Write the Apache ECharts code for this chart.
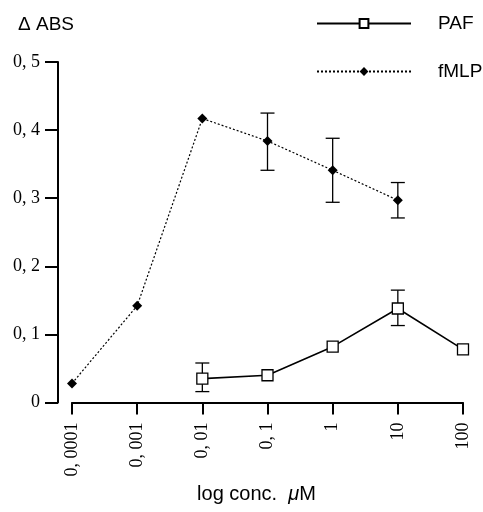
<!DOCTYPE html>
<html>
<head>
<meta charset="utf-8">
<script src="https://cdn.jsdelivr.net/npm/echarts@6/dist/echarts.min.js"></script>
<style>
  html, body { margin: 0; padding: 0; background: #fff; }
  #chart { width: 483px; height: 512px; }
</style>
</head>
<body>
<div id="chart"></div>
<script>
// Concentrations (µM), one category per decade
const concentrations = ['0,0001', '0,001', '0,01', '0,1', '1', '10', '100'];

// ΔABS responses; null where a stimulus was not tested
const pafValues  = [null, null, 0.035, 0.040, 0.082, 0.138, 0.078];
const pafLow     = [null, null, 0.016, null, null, 0.113, null];
const pafHigh    = [null, null, 0.058, null, null, 0.165, null];

const fmlpValues = [0.028, 0.142, 0.417, 0.384, 0.341, 0.297, null];
const fmlpLow    = [null, null, null, 0.341, 0.294, 0.271, null];
const fmlpHigh   = [null, null, null, 0.425, 0.388, 0.323, null];

const yTicks = [0, 0.1, 0.2, 0.3, 0.4, 0.5];

function errorData(low, high) {
  const out = [];
  low.forEach((lo, i) => {
    if (lo != null && high[i] != null) out.push([i, lo, high[i]]);
  });
  return out;
}

function renderErrorBar(params, api) {
  const x = api.value(0);
  const lo = api.coord([x, api.value(1)]);
  const hi = api.coord([x, api.value(2)]);
  const half = 7;
  const style = { stroke: '#000', lineWidth: 1.3, fill: null };
  return {
    type: 'group',
    children: [
      { type: 'line', shape: { x1: lo[0], y1: lo[1], x2: hi[0], y2: hi[1] }, style },
      { type: 'line', shape: { x1: hi[0] - half, y1: hi[1], x2: hi[0] + half, y2: hi[1] }, style },
      { type: 'line', shape: { x1: lo[0] - half, y1: lo[1], x2: lo[0] + half, y2: lo[1] }, style }
    ]
  };
}

const chart = echarts.init(document.getElementById('chart'), null, { renderer: 'canvas' });

const serif = '"Liberation Serif", "DejaVu Serif", serif';
const sans = '"Liberation Sans", Arial, sans-serif';

chart.setOption({
  animation: false,
  backgroundColor: '#fff',
  grid: { left: 72, right: 20, top: 62, bottom: 109.5, containLabel: false },
  legend: {
    orient: 'vertical',
    left: 311,
    top: 9,
    itemWidth: 94,
    itemHeight: 11,
    itemGap: 29,
    textStyle: { fontFamily: sans, fontSize: 19, color: '#000', padding: [0, 0, 0, 22] },
    data: ['PAF', 'fMLP']
  },
  xAxis: {
    type: 'category',
    data: concentrations,
    boundaryGap: false,
    name: 'log conc.  {mu|μ}M',
    nameLocation: 'middle',
    nameGap: 82,
    nameTextStyle: {
      fontFamily: sans, fontSize: 20, color: '#000', padding: [0, 22, 0, 0],
      rich: { mu: { fontFamily: sans, fontSize: 20, fontStyle: 'italic', color: '#000' } }
    },
    axisLine: { onZero: false, lineStyle: { color: '#000', width: 2 } },
    axisTick: { length: 12, lineStyle: { color: '#000', width: 2 } },
    axisLabel: {
      rotate: 90,
      margin: 20,
      fontFamily: serif,
      fontSize: 18,
      color: '#000',
      formatter: v => v.replace(',', ', ')
    },
    splitLine: { show: false }
  },
  yAxis: {
    type: 'value',
    min: yTicks[0],
    max: yTicks[yTicks.length - 1],
    interval: 0.1,
    offset: 14,
    name: 'Δ ABS',
    nameLocation: 'end',
    nameGap: 28,
    nameTextStyle: { fontFamily: sans, fontSize: 19, color: '#000', align: 'center', padding: [0, 24, 0, 0] },
    axisLine: { show: true, lineStyle: { color: '#000', width: 2 } },
    axisTick: { show: true, length: 13, lineStyle: { color: '#000', width: 2 } },
    axisLabel: {
      margin: 18,
      fontFamily: serif,
      fontSize: 18,
      color: '#000',
      formatter: v => (v === 0 ? '0' : v.toFixed(1).replace('.', ', '))
    },
    splitLine: { show: false }
  },
  series: [
    {
      name: 'PAF',
      type: 'line',
      data: pafValues,
      connectNulls: false,
      symbol: 'rect',
      symbolSize: 11,
      showSymbol: true,
      lineStyle: { color: '#000', width: 1.6, type: 'solid' },
      itemStyle: { color: '#fff', borderColor: '#000', borderWidth: 1.3 },
      z: 3
    },
    {
      name: 'fMLP',
      type: 'line',
      data: fmlpValues,
      symbol: 'diamond',
      symbolSize: 10,
      lineStyle: { color: '#000', width: 1.2, type: [2, 2] },
      itemStyle: { color: '#000', borderColor: '#000', borderWidth: 0 },
      z: 3
    },
    {
      name: 'PAF error',
      type: 'custom',
      data: errorData(pafLow, pafHigh),
      renderItem: renderErrorBar,
      encode: { x: 0, y: [1, 2] },
      z: 2
    },
    {
      name: 'fMLP error',
      type: 'custom',
      data: errorData(fmlpLow, fmlpHigh),
      renderItem: renderErrorBar,
      encode: { x: 0, y: [1, 2] },
      z: 2
    }
  ]
});
</script>
</body>
</html>
